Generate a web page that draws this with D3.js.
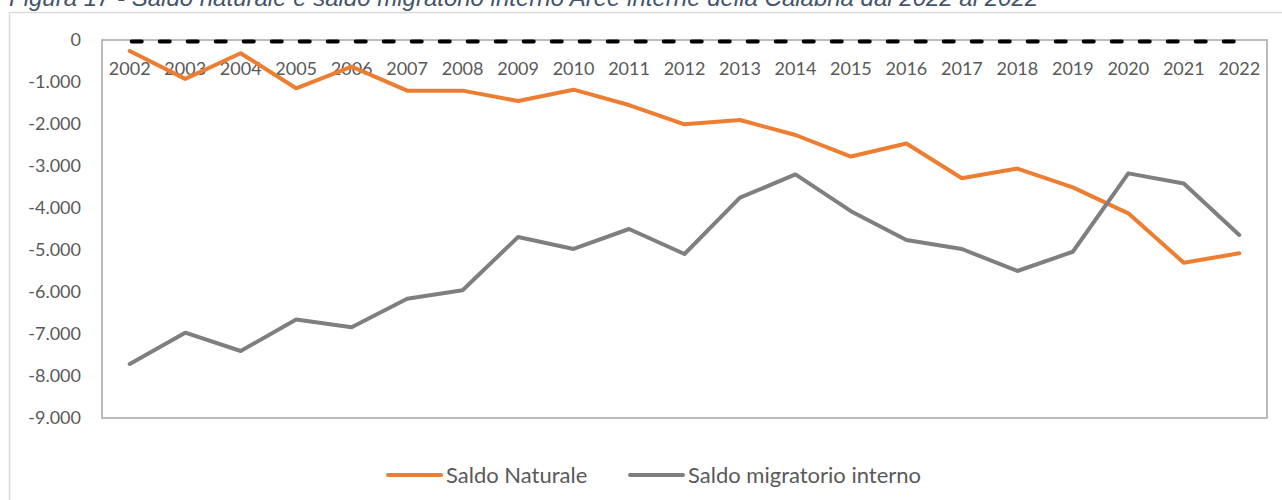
<!DOCTYPE html>
<html>
<head>
<meta charset="utf-8">
<script src="https://cdn.jsdelivr.net/npm/d3@7"></script>
<style>
  html, body { margin: 0; padding: 0; background: #fff; }
  svg { display: block; }
</style>
</head>
<body>
<svg id="chart" width="1282" height="500"></svg>
<script>
// ---- data ----
const years = ["2002","2003","2004","2005","2006","2007","2008","2009","2010","2011","2012",
               "2013","2014","2015","2016","2017","2018","2019","2020","2021","2022"];
const saldoNaturale = [-262, -925, -315, -1150, -635, -1206, -1206, -1452, -1183, -1548, -2008,
                       -1905, -2262, -2775, -2465, -3290, -3060, -3510, -4127, -5302, -5079];
const saldoMigratorioInterno = [-7714, -6968, -7405, -6655, -6840, -6160, -5958, -4690, -4976, -4500, -5095,
                                -3755, -3200, -4075, -4762, -4976, -5500, -5042, -3175, -3415, -4642];
const yTicks = [0, -1000, -2000, -3000, -4000, -5000, -6000, -7000, -8000, -9000];
const seriesNames = ["Saldo Naturale", "Saldo migratorio interno"];
const titleText = "Figura 17 - Saldo naturale e saldo migratorio interno Aree interne della Calabria dal 2022 al 2022";

// ---- layout ----
const svg = d3.select("#chart");
const plot = { left: 102, right: 1267, top: 40, bottom: 418 };
const colors = ["#ed7d31", "#7f7f7f"];
const textColor = "#595959";
const font = "Lato, 'Open Sans', sans-serif";

const x = d3.scaleBand().domain(years).range([plot.left, plot.right]);
const y = d3.scaleLinear().domain([-9000, 0]).range([plot.bottom, plot.top]);
const cx = d => x(d) + x.bandwidth() / 2;

const locale = d3.formatLocale({ decimal: ",", thousands: ".", grouping: [3], currency: ["", ""], minus: "-" });
const fmt = locale.format(",");

// outer chart border
svg.append("rect")
  .attr("x", 9.5).attr("y", 12.5).attr("width", 1400).attr("height", 600)
  .attr("fill", "#fff").attr("stroke", "#d9d9d9").attr("stroke-width", 1.5);

// title (cut at top like the reference)
svg.append("text")
  .attr("x", 9).attr("y", 6)
  .attr("font-family", "'Liberation Sans', Arial, sans-serif")
  .attr("font-style", "italic")
  .attr("font-size", 24)
  .attr("fill", "#44546a")
  .text(titleText);

// plot border
svg.append("rect")
  .attr("x", plot.left).attr("y", plot.top)
  .attr("width", plot.right - plot.left).attr("height", plot.bottom - plot.top)
  .attr("fill", "none").attr("stroke", "#b4b4b4").attr("stroke-width", 1.8);

// y axis
const yAxis = svg.append("g")
  .attr("transform", `translate(${plot.left},0)`)
  .call(d3.axisLeft(y).tickValues(yTicks).tickSize(0).tickPadding(21).tickFormat(fmt));
yAxis.select(".domain").remove();
yAxis.selectAll("text")
  .attr("font-family", font).attr("font-size", 18).attr("fill", textColor);

// x axis at zero
const xAxis = svg.append("g")
  .attr("transform", `translate(0,${y(0)})`)
  .call(d3.axisBottom(x).tickSize(0).tickPadding(22));
xAxis.select(".domain").remove();
xAxis.selectAll("text")
  .attr("font-family", font).attr("font-size", 18).attr("fill", textColor);

// dashed zero line
svg.append("line")
  .attr("x1", cx(years[0]) + 2).attr("x2", cx(years[years.length - 1]) - 2)
  .attr("y1", y(0) + 1.5).attr("y2", y(0) + 1.5)
  .attr("stroke", "#000").attr("stroke-width", 4)
  .attr("stroke-linecap", "round")
  .attr("stroke-dasharray", "10 18");

// series lines
const line = d3.line().x((d, i) => cx(years[i])).y(d => y(d));
[saldoNaturale, saldoMigratorioInterno].forEach((vals, k) => {
  svg.append("path")
    .attr("d", line(vals))
    .attr("fill", "none")
    .attr("stroke", colors[k])
    .attr("stroke-width", 4)
    .attr("stroke-linejoin", "round")
    .attr("stroke-linecap", "round");
});

// legend
const legendY = 475;
const legendItems = [
  { x1: 388, x2: 441, tx: 446 },
  { x1: 630, x2: 683, tx: 688 }
];
legendItems.forEach((it, k) => {
  svg.append("line")
    .attr("x1", it.x1).attr("x2", it.x2).attr("y1", legendY).attr("y2", legendY)
    .attr("stroke", colors[k]).attr("stroke-width", 4).attr("stroke-linecap", "round");
  svg.append("text")
    .attr("x", it.tx).attr("y", legendY).attr("dy", "0.35em")
    .attr("font-family", font).attr("font-size", 22).attr("fill", textColor)
    .text(seriesNames[k]);
});
</script>
</body>
</html>
